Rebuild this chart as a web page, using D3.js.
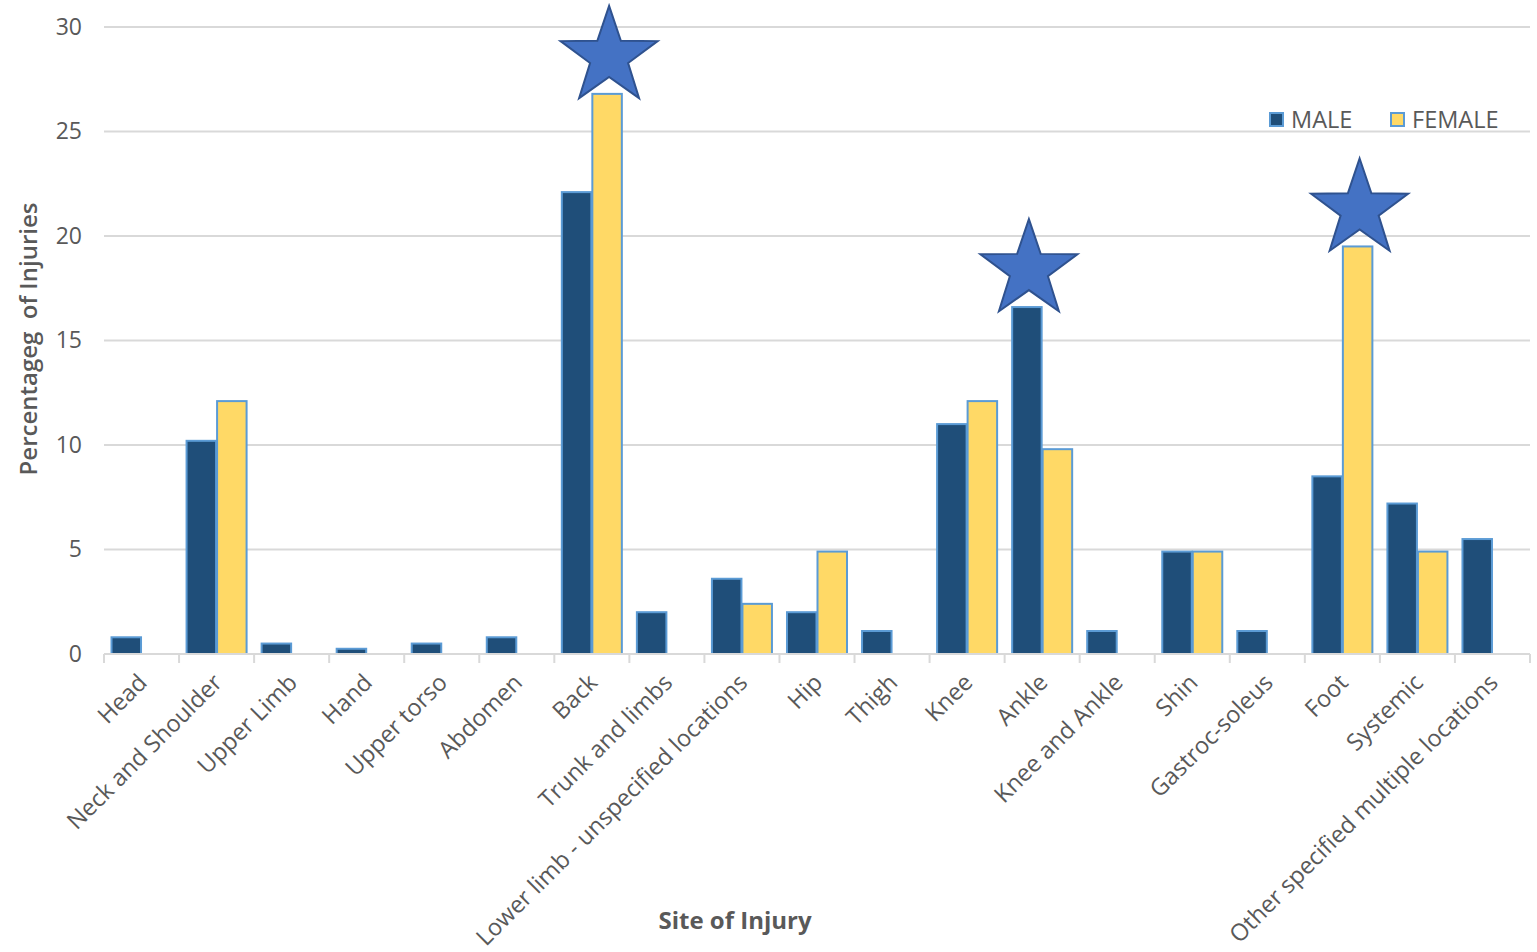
<!DOCTYPE html>
<html>
<head>
<meta charset="utf-8">
<script src="https://cdn.jsdelivr.net/npm/d3@7"></script>
<style>
  html, body { margin: 0; padding: 0; background: #ffffff; }
  svg { display: block; font-family: "Open Sans", "Noto Sans", sans-serif; }
</style>
</head>
<body>
<svg id="chart" width="1537" height="952"></svg>
<script>
// Injury sites and percentage of injuries by sex
const categories = [
  "Head", "Neck and Shoulder", "Upper Limb", "Hand", "Upper torso", "Abdomen",
  "Back", "Trunk and limbs", "Lower limb - unspecified locations", "Hip", "Thigh",
  "Knee", "Ankle", "Knee and Ankle", "Shin", "Gastroc-soleus", "Foot", "Systemic",
  "Other specified multiple locations"
];
const seriesNames = ["MALE", "FEMALE"];
const maleValues   = [0.8, 10.2, 0.5, 0.25, 0.5, 0.8, 22.1, 2.0, 3.6, 2.0, 1.1, 11.0, 16.6, 1.1, 4.9, 1.1, 8.5, 7.2, 5.5];
const femaleValues = [0,   12.1, 0,   0,    0,   0,   26.8, 0,   2.4, 4.9, 0,   12.1, 9.8,  0,   4.9, 0,   19.5, 4.9, 0];
const yTicks = [0, 5, 10, 15, 20, 25, 30];
// Bars highlighted with a star
const starred = [
  { category: "Back", series: "FEMALE" },
  { category: "Ankle", series: "MALE" },
  { category: "Foot", series: "FEMALE" }
];

const valuesBySeries = { MALE: maleValues, FEMALE: femaleValues };
const colors = { MALE: "#1f4e79", FEMALE: "#ffd966" };
const barStroke = "#5b9bd5";
const textColor = "#595959";
const gridColor = "#d9d9d9";

const svg = d3.select("#chart");
const plot = { left: 104, right: 1530, top: 27, bottom: 654 };

const x0 = d3.scaleBand()
  .domain(categories)
  .range([plot.left, plot.right])
  .paddingInner(0.187)
  .paddingOuter(0.0935);
const x1 = d3.scaleBand()
  .domain(seriesNames)
  .range([0, x0.bandwidth()]);
const y = d3.scaleLinear().domain([0, 30]).range([plot.bottom, plot.top]);

// Horizontal gridlines
svg.append("g")
  .selectAll("line")
  .data(yTicks.filter(t => t > 0))
  .join("line")
  .attr("x1", plot.left).attr("x2", plot.right)
  .attr("y1", d => y(d)).attr("y2", d => y(d))
  .attr("stroke", gridColor).attr("stroke-width", 2);

// Y axis labels
const yAxis = svg.append("g")
  .attr("transform", `translate(${plot.left},0)`)
  .call(d3.axisLeft(y).tickValues(yTicks).tickSize(0).tickPadding(22));
yAxis.select(".domain").remove();
yAxis.selectAll("text")
  .attr("fill", textColor)
  .style("font-size", "23px")
  .style("font-family", "'Open Sans', sans-serif");

// Bars
const groups = svg.append("g")
  .selectAll("g")
  .data(categories)
  .join("g")
  .attr("transform", d => `translate(${x0(d)},0)`);

groups.selectAll("rect")
  .data((c, i) => seriesNames.map(s => ({ series: s, value: valuesBySeries[s][i] })).filter(d => d.value > 0))
  .join("rect")
  .attr("x", d => x1(d.series) + 0.5)
  .attr("width", x1.bandwidth() - 1)
  .attr("y", d => y(d.value))
  .attr("height", d => y(0) - y(d.value))
  .attr("fill", d => colors[d.series])
  .attr("stroke", barStroke)
  .attr("stroke-width", 2);

// X axis line with category separators
const xAxisG = svg.append("g");
xAxisG.append("line")
  .attr("x1", plot.left).attr("x2", plot.right)
  .attr("y1", y(0)).attr("y2", y(0))
  .attr("stroke", gridColor).attr("stroke-width", 2);
const step = x0.step();
xAxisG.selectAll("line.sep")
  .data(d3.range(categories.length + 1))
  .join("line")
  .attr("class", "sep")
  .attr("x1", i => plot.left + i * step)
  .attr("x2", i => plot.left + i * step)
  .attr("y1", y(0)).attr("y2", y(0) + 9)
  .attr("stroke", gridColor).attr("stroke-width", 2);

// Category labels, rotated
xAxisG.selectAll("text")
  .data(categories)
  .join("text")
  .attr("transform", d => `translate(${x0(d) + x0.bandwidth() / 2 + 7},${y(0) + 30}) rotate(-45)`)
  .attr("text-anchor", "end")
  .attr("fill", textColor)
  .style("font-size", "23.5px")
  .text(d => d);

// Axis titles
svg.append("text")
  .attr("transform", `translate(37,339) rotate(-90)`)
  .attr("text-anchor", "middle")
  .attr("fill", textColor)
  .style("font-size", "24px")
  .style("font-weight", 600)
  .style("white-space", "pre")
  .text("Percentageg  of Injuries");

svg.append("text")
  .attr("x", 735)
  .attr("y", 929)
  .attr("text-anchor", "middle")
  .attr("fill", textColor)
  .style("font-size", "24px")
  .style("font-weight", 700)
  .text("Site of Injury");

// Legend
const legend = svg.append("g");
const legendItems = legend.selectAll("g")
  .data(seriesNames)
  .join("g")
  .attr("transform", (d, i) => `translate(${1270 + i * 121},113)`);
legendItems.append("rect")
  .attr("width", 13).attr("height", 13)
  .attr("fill", d => colors[d])
  .attr("stroke", barStroke)
  .attr("stroke-width", 2);
legendItems.append("text")
  .attr("x", 21).attr("y", 15)
  .attr("fill", textColor)
  .style("font-size", "23.5px")
  .text(d => d);

// Stars above highlighted bars
function starPath(cx, cy, outer, inner) {
  const pts = [];
  for (let k = 0; k < 10; k++) {
    const r = k % 2 === 0 ? outer : inner;
    const a = -Math.PI / 2 + k * Math.PI / 5;
    pts.push([cx + r * Math.cos(a), cy + r * Math.sin(a)]);
  }
  return d3.line()(pts) + "Z";
}
svg.append("g")
  .selectAll("path")
  .data(starred)
  .join("path")
  .attr("d", d => {
    const i = categories.indexOf(d.category);
    const v = valuesBySeries[d.series][i];
    const cx = x0(d.category) + x1(d.series) + x1.bandwidth() / 2 + 2;
    const cy = y(v) - 37;
    return starPath(cx, cy, 51, 20);
  })
  .attr("fill", "#4472c4")
  .attr("stroke", "#2f528f")
  .attr("stroke-width", 2)
  .attr("stroke-linejoin", "miter");
</script>
</body>
</html>
